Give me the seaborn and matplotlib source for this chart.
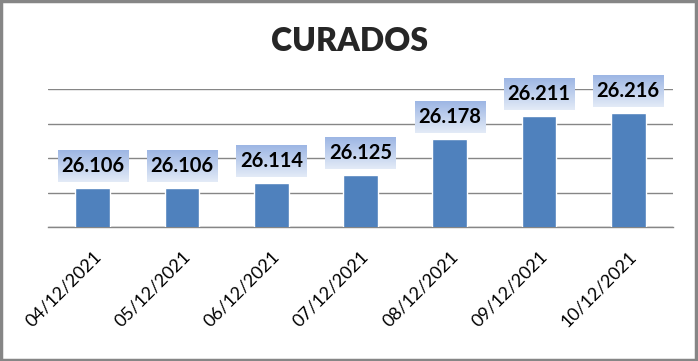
import numpy as np
import pandas as pd
import matplotlib
matplotlib.use("Agg")
import matplotlib.pyplot as plt
import seaborn as sns
from matplotlib.patches import Rectangle

dates = ["04/12/2021", "05/12/2021", "06/12/2021", "07/12/2021",
         "08/12/2021", "09/12/2021", "10/12/2021"]
values = [26.106, 26.106, 26.114, 26.125, 26.178, 26.211, 26.216]
labels = ["26.106", "26.106", "26.114", "26.125", "26.178", "26.211", "26.216"]
title = "CURADOS"

sns.set_theme(style="white")
plt.rcParams['font.family'] = ['Lato', 'DejaVu Sans']

df = pd.DataFrame({"fecha": dates, "valor": values})

fig = plt.figure(figsize=(6.98, 3.61), dpi=100)
ax = fig.add_axes([0.069, 0.371, 0.895, 0.382])

sns.barplot(data=df, x="fecha", y="valor", color="#4f81bd", width=0.39,
            saturation=1, ax=ax, zorder=3)

ymin, ymax = 26.05, 26.25
ax.set_ylim(ymin, ymax)
ax.set_xlim(-0.5, len(dates) - 0.5)
ax.set_yticks(np.arange(26.05, 26.2501, 0.05))
ax.set_yticklabels([])
ax.tick_params(axis='y', length=0)
ax.grid(axis='y', color='#868686', linewidth=1.0, zorder=0)
ax.set_axisbelow(True)
for s in ["left", "right", "top"]:
    ax.spines[s].set_visible(False)
ax.spines["bottom"].set_color("#868686")
ax.spines["bottom"].set_linewidth(1.0)
ax.set_xlabel("")
ax.set_ylabel("")

# tick marks at category boundaries
ax.set_xticks(np.arange(-0.5, len(dates)), minor=True)
ax.tick_params(axis='x', which='minor', length=6, color='#868686', width=1, direction='out')
ax.tick_params(axis='x', which='major', length=0, pad=15)
ax.set_xticks(range(len(dates)))
ax.set_xticklabels(dates, rotation=45, ha='right', rotation_mode='anchor',
                   fontsize=13, color='black')

# gradient label boxes
grad = np.linspace(0, 1, 64).reshape(-1, 1)
top_c = np.array(matplotlib.colors.to_rgb("#9db6e4"))
bot_c = np.array(matplotlib.colors.to_rgb("#e3ebf7"))
img = (top_c[None, None, :] * (1 - grad[..., None]) + bot_c[None, None, :] * grad[..., None])
px = (ymax - ymin) / (ax.get_position().height * fig.get_figheight() * fig.dpi)
for i, (v, lab) in enumerate(zip(values, labels)):
    y0 = v + 6 * px
    y1 = y0 + 32 * px
    ax.imshow(img, extent=(i - 0.395, i + 0.395, y0, y1), aspect='auto',
              zorder=4, interpolation='bilinear')
    ax.text(i, (y0 + y1) / 2, lab, ha='center', va='center', fontsize=14.5,
            fontweight='bold', color='black', zorder=5)
ax.set_xlim(-0.5, len(dates) - 0.5)
ax.set_ylim(ymin, ymax)
for t in ax.texts:
    t.set_clip_on(False)
for im in ax.images:
    im.set_clip_on(False)

fig.text(0.5, 0.885, title, ha='center', va='center', fontsize=23, fontweight='heavy')

# figure border
fig.patches.append(Rectangle((0.002, 0.003), 0.995, 0.993, transform=fig.transFigure,
                             fill=False, edgecolor='#868686', linewidth=2.5))

fig.savefig("out.png", dpi=100)
